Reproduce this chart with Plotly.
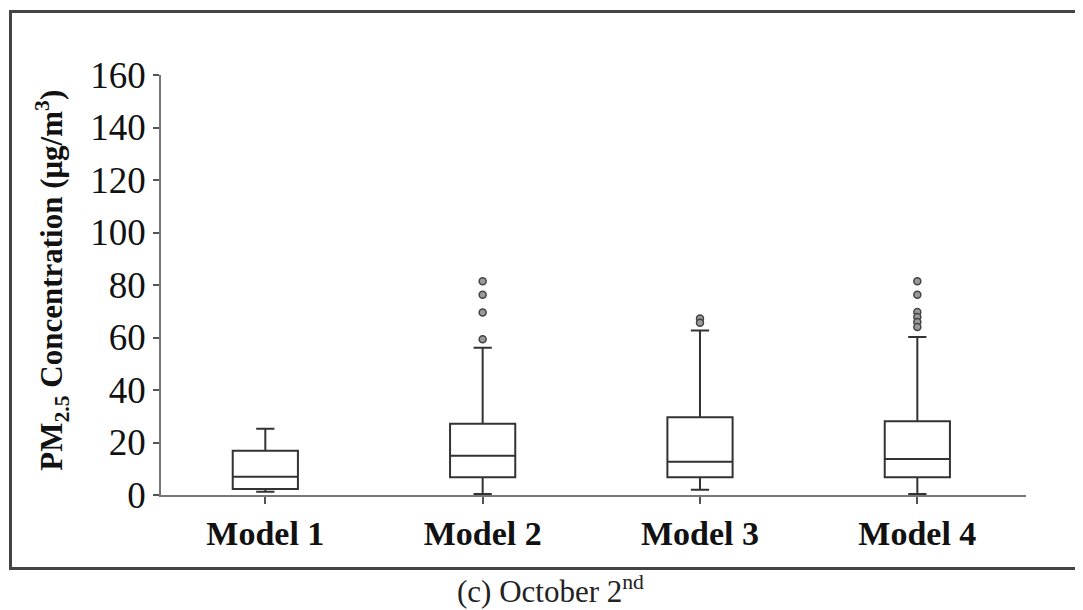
import plotly.graph_objects as go

# ---- data ----
models = ["Model 1", "Model 2", "Model 3", "Model 4"]
lower_whisker = [1.2, 0.4, 2.0, 0.4]
q1_vals = [2.3, 6.8, 6.8, 6.8]
median_vals = [7.0, 15.0, 12.7, 13.7]
q3_vals = [16.9, 27.1, 29.6, 28.1]
upper_whisker = [25.2, 56.1, 62.7, 60.2]

outlier_model = ["Model 2", "Model 2", "Model 2", "Model 2",
                 "Model 3", "Model 3",
                 "Model 4", "Model 4", "Model 4", "Model 4", "Model 4", "Model 4"]
outlier_value = [81.4, 76.3, 69.5, 59.3,
                 67.2, 65.6,
                 81.4, 76.3, 69.7, 67.8, 65.9, 64.0]

y_ticks = [0, 20, 40, 60, 80, 100, 120, 140, 160]

SERIF = "Liberation Serif, Times New Roman, serif"
LINE = "#333333"

fig = go.Figure()

for i, m in enumerate(models):
    fig.add_trace(go.Box(
        x=[m],
        q1=[q1_vals[i]], median=[median_vals[i]], q3=[q3_vals[i]],
        lowerfence=[lower_whisker[i]], upperfence=[upper_whisker[i]],
        boxpoints=False,
        width=0.3,
        whiskerwidth=0.28,
        fillcolor="white",
        line=dict(color=LINE, width=2),
        showlegend=False,
        hoverinfo="skip",
    ))

fig.add_trace(go.Scatter(
    x=outlier_model, y=outlier_value, mode="markers",
    marker=dict(symbol="circle", size=7, color="#9a9a9a",
                line=dict(color="#444444", width=1.5)),
    showlegend=False, hoverinfo="skip",
))

# the page body has an 8px default margin, so work in page pixels minus 8
OFF = 8
W, H = 1083 - OFF, 610 - OFF
plot_left, plot_right, plot_top, plot_bottom = 161, 1026, 75, 495.5
ml = plot_left - OFF
mr = W - (plot_right - OFF)
mt = plot_top - OFF
mb = H - (plot_bottom - OFF)
pw = W - ml - mr
ph = H - mt - mb


def px_x(x):
    return (x - OFF - ml) / pw


def px_y(y):
    return (H - mb - (y - OFF)) / ph


fig.update_layout(
    width=W, height=H,
    margin=dict(l=ml, r=mr, t=mt, b=mb, pad=0),
    paper_bgcolor="white", plot_bgcolor="white",
    showlegend=False,
    xaxis=dict(
        type="category",
        categoryorder="array", categoryarray=models,
        range=[-0.48, 3.5],
        showline=True, linecolor="#777777", linewidth=1.5,
        ticks="outside", ticklen=7, tickwidth=1.5, tickcolor="#555555",
        tickfont=dict(family=SERIF, size=34, color="#111111", weight="bold"),
        showgrid=False, zeroline=False,
        ticklabelstandoff=0,
    ),
    yaxis=dict(
        range=[0, 160],
        tickvals=y_ticks,
        showline=True, linecolor="#777777", linewidth=1.5,
        ticks="outside", ticklen=6, tickwidth=1.5, tickcolor="#555555",
        tickfont=dict(family=SERIF, size=37, color="#111111"),
        showgrid=False, zeroline=False,
        ticklabelstandoff=0,
    ),
    shapes=[dict(
        type="rect", xref="paper", yref="paper",
        x0=px_x(10.5), x1=px_x(1100), y0=px_y(569), y1=px_y(11.5),
        line=dict(color="#444444", width=3), fillcolor="rgba(0,0,0,0)",
        layer="below",
    )],
    annotations=[
        dict(
            text="PM<sub>2.5</sub> Concentration (μg/m<sup>3</sup>)",
            xref="paper", yref="paper",
            x=px_x(52), y=px_y(281),
            showarrow=False, textangle=-90,
            xanchor="center", yanchor="middle",
            font=dict(family=SERIF, size=31, color="#111111", weight="bold"),
        ),
        dict(
            text="(c) October 2<sup>nd</sup>",
            xref="paper", yref="paper",
            x=px_x(550), y=px_y(590),
            showarrow=False,
            xanchor="center", yanchor="middle",
            font=dict(family=SERIF, size=31, color="#222222"),
        ),
    ],
)

fig.write_html("out.html")
